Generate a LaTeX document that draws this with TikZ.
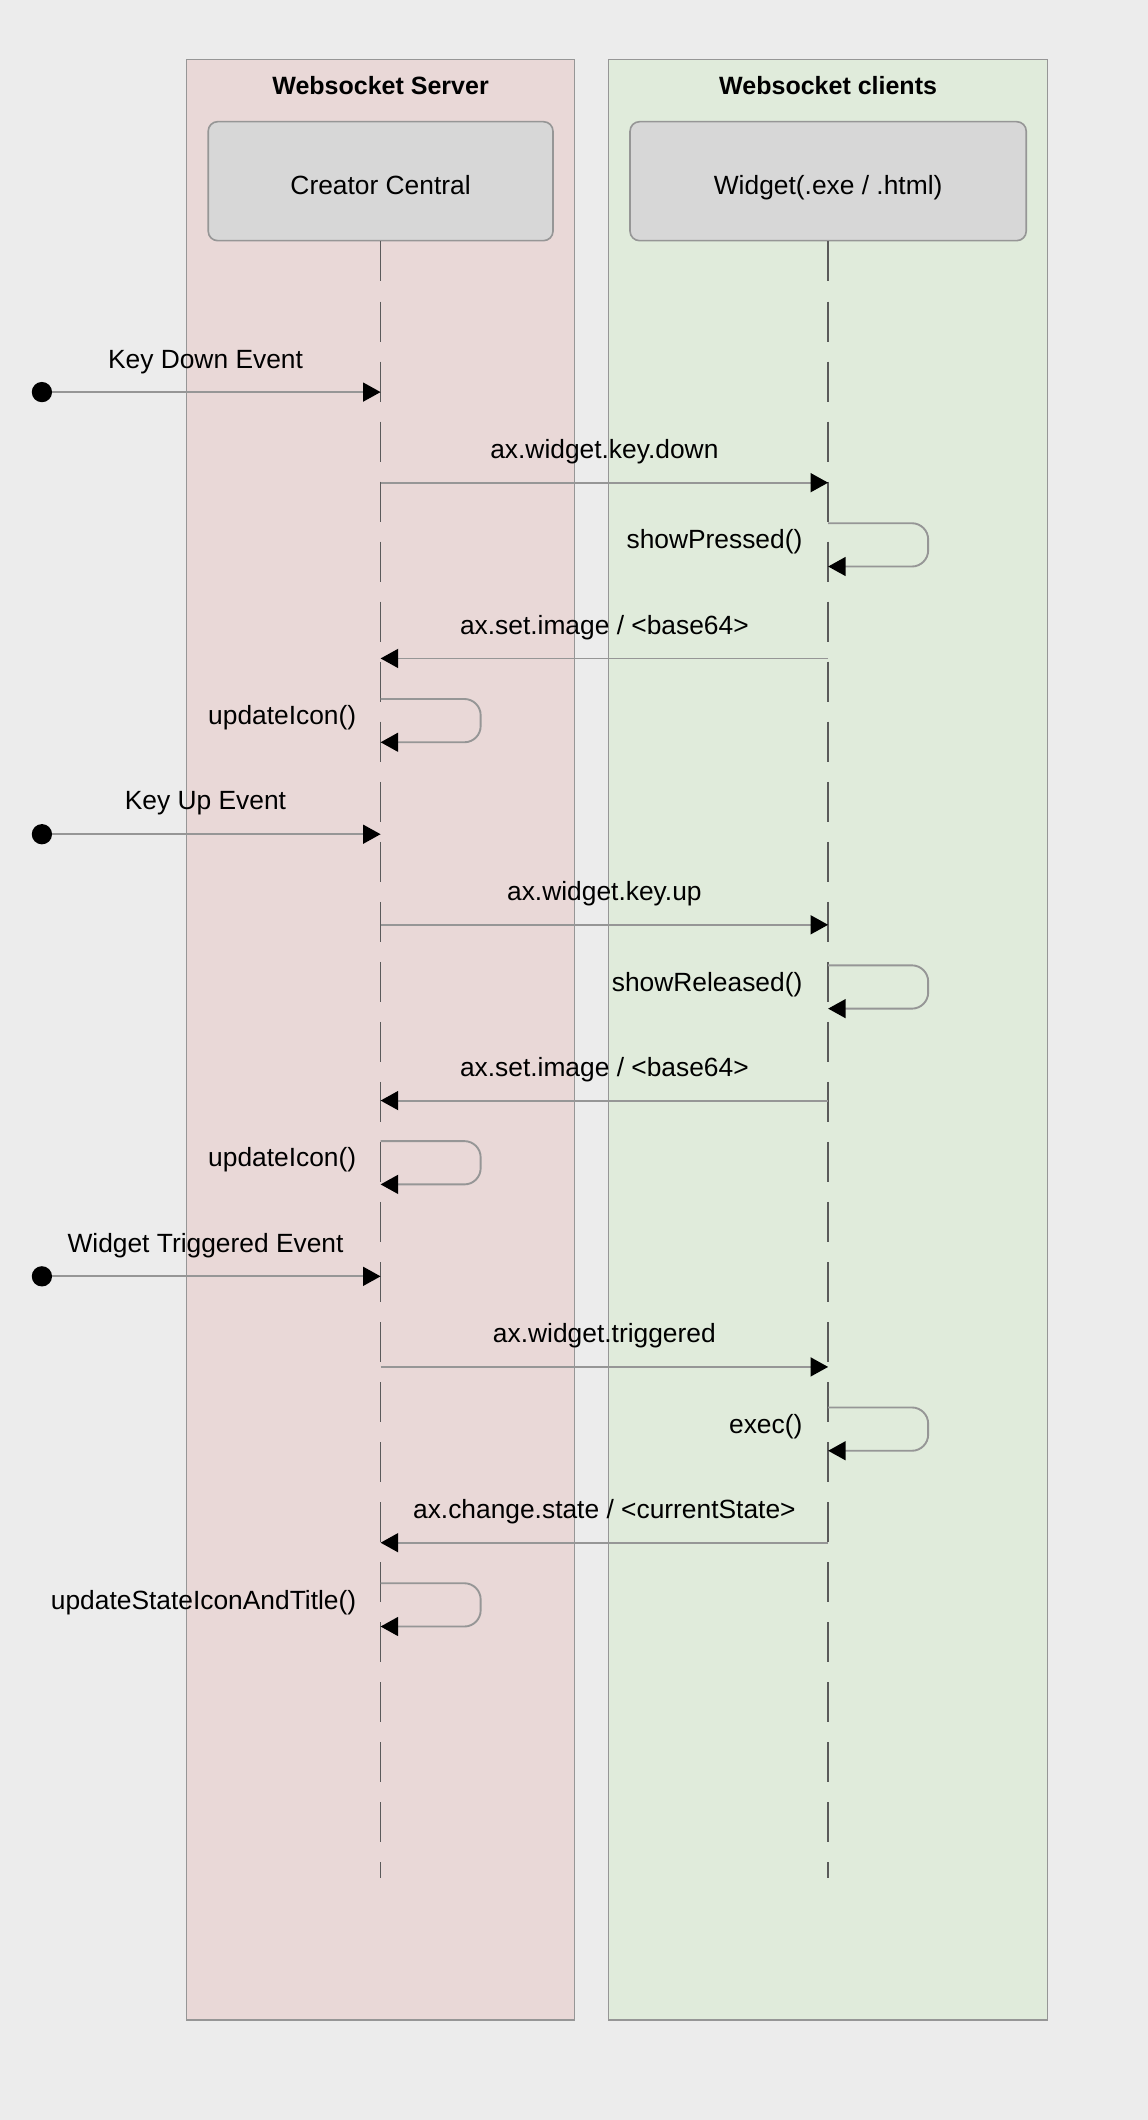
\documentclass[tikz,border=0pt]{standalone}
\usepackage{fontspec}
\setmainfont{Liberation Sans}
\usepackage{tikz}
\usetikzlibrary{arrows.meta}

\definecolor{bgcol}{RGB}{236,236,236}
\definecolor{srvcol}{RGB}{233,216,215}
\definecolor{clicol}{RGB}{224,235,219}
\definecolor{boxcol}{RGB}{215,215,215}
\definecolor{edgecol}{RGB}{150,150,150}
\definecolor{lifecol}{RGB}{90,90,90}

\begin{document}
\begin{tikzpicture}[x=1pt,y=-1pt,
		lane/.style={draw=edgecol, line width=0.8pt},
		lanetitle/.style={font=\fontsize{18.5}{22}\selectfont\bfseries},
		actor/.style={draw=edgecol, fill=boxcol, rounded corners=7pt, line width=1.2pt, minimum height=88pt, text height=20pt, text depth=0pt, font=\fontsize{19.5}{23}\selectfont},
		lifeline/.style={draw=lifecol, line width=1.1pt, dash pattern=on 29.6pt off 14.8pt},
		msg/.style={draw=edgecol, line width=1.4pt, -{Triangle[length=13pt,width=14pt,color=black]}},
		selfmsg/.style={msg, rounded corners=12pt},
		lbl/.style={font=\fontsize{19.5}{23}\selectfont},
		startdot/.style={circle, fill=black, inner sep=0pt, minimum size=15pt}]
		\fill[bgcol] (0,0) rectangle (849,1568);
		\useasboundingbox (0,0) rectangle (849,1568);
		
		\draw[lane, fill=srvcol] (138,44) rectangle (425,1494);
		\draw[lane, fill=clicol] (450,44) rectangle (775,1494);
		\node[lanetitle] (srvtitle) at (281.5,63) {Websocket Server};
		\node[lanetitle] (clititle) at (612.5,63) {Websocket clients};
		
		\node[actor, minimum width=255pt] (cc) at (281.5,134) {Creator Central};
		\node[actor, minimum width=293pt] (wg) at (612.5,134) {Widget(.exe / .html)};
		\draw[lifeline] (cc.south) -- (cc.south |- 0,1389);
		\draw[lifeline] (wg.south) -- (wg.south |- 0,1389);
		
		\node[startdot] (kdown) at (31,290) {};
		\node[lbl] at (152,268) {Key Down Event};
		\draw[msg] (kdown) -- (cc |- kdown);
		\draw[msg] (cc |- 0,357) -- node[lbl, yshift=23pt]{ax.widget.key.down} (wg |- 0,357);
		\draw[selfmsg] (wg |- 0,387) -- ++(74,0) -- ++(0,32) -- (wg |- 0,419);
		\node[lbl, anchor=east] at (597,401) {showPressed()};
		\draw[msg] (wg |- 0,487) -- node[lbl, yshift=23pt]{ax.set.image / <base64>} (cc |- 0,487);
		\draw[selfmsg] (cc |- 0,517) -- ++(74,0) -- ++(0,32) -- (cc |- 0,549);
		\node[lbl, anchor=east] at (267,531) {updateIcon()};
		
		\node[startdot] (kup) at (31,617) {};
		\node[lbl] at (152,594) {Key Up Event};
		\draw[msg] (kup) -- (cc |- kup);
		\draw[msg] (cc |- 0,684) -- node[lbl, yshift=23pt]{ax.widget.key.up} (wg |- 0,684);
		\draw[selfmsg] (wg |- 0,714) -- ++(74,0) -- ++(0,32) -- (wg |- 0,746);
		\node[lbl, anchor=east] at (597,728) {showReleased()};
		\draw[msg] (wg |- 0,814) -- node[lbl, yshift=23pt]{ax.set.image / <base64>} (cc |- 0,814);
		\draw[selfmsg] (cc |- 0,844) -- ++(74,0) -- ++(0,32) -- (cc |- 0,876);
		\node[lbl, anchor=east] at (267,858) {updateIcon()};
		
		\node[startdot] (trig) at (31,944) {};
		\node[lbl] at (152,921) {Widget Triggered Event};
		\draw[msg] (trig) -- (cc |- trig);
		\draw[msg] (cc |- 0,1011) -- node[lbl, yshift=23pt]{ax.widget.triggered} (wg |- 0,1011);
		\draw[selfmsg] (wg |- 0,1041) -- ++(74,0) -- ++(0,32) -- (wg |- 0,1073);
		\node[lbl, anchor=east] at (597,1055) {exec()};
		\draw[msg] (wg |- 0,1141) -- node[lbl, yshift=23pt]{ax.change.state / <currentState>} (cc |- 0,1141);
		\draw[selfmsg] (cc |- 0,1171) -- ++(74,0) -- ++(0,32) -- (cc |- 0,1203);
		\node[lbl, anchor=east] at (267,1185) {updateStateIconAndTitle()};
	\end{tikzpicture}
\end{document}
